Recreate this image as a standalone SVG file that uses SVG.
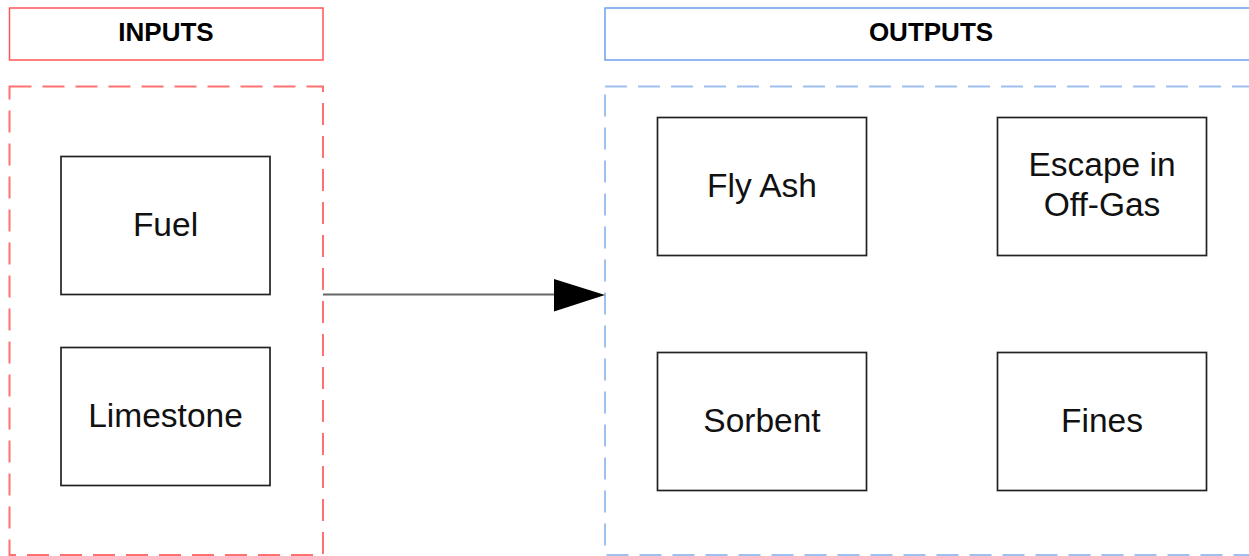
<svg xmlns="http://www.w3.org/2000/svg" width="1249" height="556" viewBox="0 0 1249 556">
  <style>
    .hdr-text { font-family: "Liberation Sans", Arial, sans-serif; font-size: 26px; font-weight: bold; fill: #000; text-anchor: middle; }
    .node rect { fill: #fff; stroke: #222; stroke-width: 1.7; }
    .node text { font-family: "Liberation Sans", Arial, sans-serif; font-size: 33.5px; fill: #111; text-anchor: middle; }
    .in-hdr { fill: #fff; stroke: #f55; stroke-width: 1.5; }
    .out-hdr { fill: #fff; stroke: #6d9eeb; stroke-width: 1.5; }
    .in-area { fill: none; stroke: #ff7070; stroke-width: 2; stroke-dasharray: 22 11; }
    .out-area { fill: none; stroke: #9fbfef; stroke-width: 2; stroke-dasharray: 22 11; }
    .link { stroke: #666; stroke-width: 2; fill: none; }
  </style>

  <rect width="1249" height="556" fill="#fff"/>

  <!-- Inputs column -->
  <g id="inputs-header">
    <rect class="in-hdr" x="9.5" y="8" width="313.5" height="52"/>
    <text class="hdr-text" x="166" y="41">INPUTS</text>
  </g>
  <g id="inputs-area">
    <rect class="in-area" x="9.5" y="86.5" width="313.5" height="468.5"/>
  </g>

  <!-- Outputs column -->
  <g id="outputs-header">
    <rect class="out-hdr" x="605" y="8" width="652" height="52"/>
    <text class="hdr-text" x="931" y="41">OUTPUTS</text>
  </g>
  <g id="outputs-area">
    <rect class="out-area" x="605" y="86.5" width="652" height="468.5"/>
  </g>

  <!-- Input nodes -->
  <g id="fuel" class="node">
    <rect x="61" y="156.5" width="209" height="138"/>
    <text x="165.5" y="235.5">Fuel</text>
  </g>
  <g id="limestone" class="node">
    <rect x="61" y="347.5" width="209" height="138"/>
    <text x="165.5" y="426.5">Limestone</text>
  </g>

  <!-- Output nodes -->
  <g id="fly-ash" class="node">
    <rect x="657.5" y="117.5" width="209" height="138"/>
    <text x="762" y="196.5">Fly Ash</text>
  </g>
  <g id="escape-off-gas" class="node">
    <rect x="997.5" y="117.5" width="209" height="138"/>
    <text x="1102" y="175.5">Escape in</text>
    <text x="1102" y="215.5">Off-Gas</text>
  </g>
  <g id="sorbent" class="node">
    <rect x="657.5" y="352.5" width="209" height="138"/>
    <text x="762" y="431.5">Sorbent</text>
  </g>
  <g id="fines" class="node">
    <rect x="997.5" y="352.5" width="209" height="138"/>
    <text x="1102" y="431.5">Fines</text>
  </g>

  <!-- Connectors -->
  <g id="connectors">
    <line class="link" x1="323" y1="294.5" x2="556" y2="294.5"/>
    <polygon points="554,279 605,295 554,311.5" fill="#000"/>
  </g>
</svg>
